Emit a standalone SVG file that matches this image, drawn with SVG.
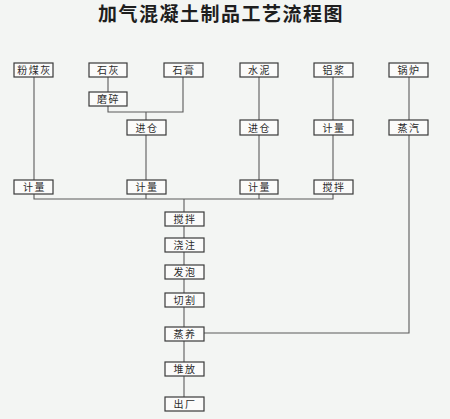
<svg xmlns="http://www.w3.org/2000/svg" width="450" height="419" viewBox="0 0 450 419">
<style>
.bg{fill:#f3f5f3}
.box{fill:#fbfbfa;stroke:#3a3a3a;stroke-width:1.2}
.lbl{font-family:"Noto Sans CJK SC","Noto Sans CJK JP",sans-serif;font-size:10px;fill:#2a2a2a;text-anchor:middle;letter-spacing:1.5px}
.title{font-family:"Noto Sans CJK SC","Noto Sans CJK JP",sans-serif;font-size:19px;font-weight:bold;fill:#1e1e1e;text-anchor:middle;letter-spacing:1.5px}
.ln{fill:none;stroke:#5a5a5a;stroke-width:1.1}
</style>
<rect class="bg" x="0" y="0" width="450" height="419"/>
<text class="title" x="221" y="21">加气混凝土制品工艺流程图</text>
<g id="connectors">
<path class="ln" d="M34 77V180"/>
<path class="ln" d="M108 77V92"/>
<path class="ln" d="M108 106V112H183V77"/>
<path class="ln" d="M146 112V120"/>
<path class="ln" d="M146 135V180"/>
<path class="ln" d="M259 77V120"/>
<path class="ln" d="M259 135V180"/>
<path class="ln" d="M333 77V120"/>
<path class="ln" d="M333 135V180"/>
<path class="ln" d="M409 77V120"/>
<path class="ln" d="M409 135V333H204"/>
<path class="ln" d="M34 194V199H333V194"/>
<path class="ln" d="M146 194V199"/>
<path class="ln" d="M259 194V199"/>
<path class="ln" d="M184 199V212"/>
<path class="ln" d="M184 226V238"/>
<path class="ln" d="M184 252V265"/>
<path class="ln" d="M184 279V293"/>
<path class="ln" d="M184 307V327"/>
<path class="ln" d="M184 341V362"/>
<path class="ln" d="M184 376V397"/>
</g>
<g id="n-fenmeihui"><rect class="box" x="14" y="63" width="39" height="14"/><text class="lbl" x="34.5" y="74">粉煤灰</text></g>
<g id="n-shihui"><rect class="box" x="89" y="63" width="38" height="14"/><text class="lbl" x="108.5" y="74">石灰</text></g>
<g id="n-shigao"><rect class="box" x="164" y="63" width="39" height="14"/><text class="lbl" x="184" y="74">石膏</text></g>
<g id="n-shuini"><rect class="box" x="240" y="63" width="38" height="14"/><text class="lbl" x="259.5" y="74">水泥</text></g>
<g id="n-lvjiang"><rect class="box" x="314" y="63" width="39" height="14"/><text class="lbl" x="334" y="74">铝浆</text></g>
<g id="n-guolu"><rect class="box" x="389" y="63" width="39" height="14"/><text class="lbl" x="409" y="74">锅炉</text></g>
<g id="n-mosui"><rect class="box" x="89" y="92" width="38" height="14"/><text class="lbl" x="108.5" y="103">磨碎</text></g>
<g id="n-jincang1"><rect class="box" x="127" y="120" width="39" height="15"/><text class="lbl" x="147" y="131.5">进仓</text></g>
<g id="n-jincang2"><rect class="box" x="240" y="120" width="38" height="15"/><text class="lbl" x="259.5" y="131.5">进仓</text></g>
<g id="n-jiliang-al"><rect class="box" x="314" y="120" width="39" height="15"/><text class="lbl" x="334" y="131.5">计量</text></g>
<g id="n-zhengqi"><rect class="box" x="389" y="120" width="39" height="15"/><text class="lbl" x="409" y="131.5">蒸汽</text></g>
<g id="n-jiliang1"><rect class="box" x="14" y="180" width="39" height="14"/><text class="lbl" x="34.5" y="191">计量</text></g>
<g id="n-jiliang2"><rect class="box" x="127" y="180" width="39" height="14"/><text class="lbl" x="147" y="191">计量</text></g>
<g id="n-jiliang3"><rect class="box" x="240" y="180" width="38" height="14"/><text class="lbl" x="259.5" y="191">计量</text></g>
<g id="n-jiaoban-al"><rect class="box" x="314" y="180" width="39" height="14"/><text class="lbl" x="334" y="191">搅拌</text></g>
<g id="n-jiaoban"><rect class="box" x="165" y="212" width="39" height="14"/><text class="lbl" x="185" y="223">搅拌</text></g>
<g id="n-jiaozhu"><rect class="box" x="165" y="238" width="39" height="14"/><text class="lbl" x="185" y="249">浇注</text></g>
<g id="n-fapao"><rect class="box" x="165" y="265" width="39" height="14"/><text class="lbl" x="185" y="276">发泡</text></g>
<g id="n-qiege"><rect class="box" x="165" y="293" width="39" height="14"/><text class="lbl" x="185" y="304">切割</text></g>
<g id="n-zhengyang"><rect class="box" x="165" y="327" width="39" height="14"/><text class="lbl" x="185" y="338">蒸养</text></g>
<g id="n-duifang"><rect class="box" x="165" y="362" width="39" height="14"/><text class="lbl" x="185" y="373">堆放</text></g>
<g id="n-chuchang"><rect class="box" x="165" y="397" width="39" height="14"/><text class="lbl" x="185" y="408">出厂</text></g>
</svg>
